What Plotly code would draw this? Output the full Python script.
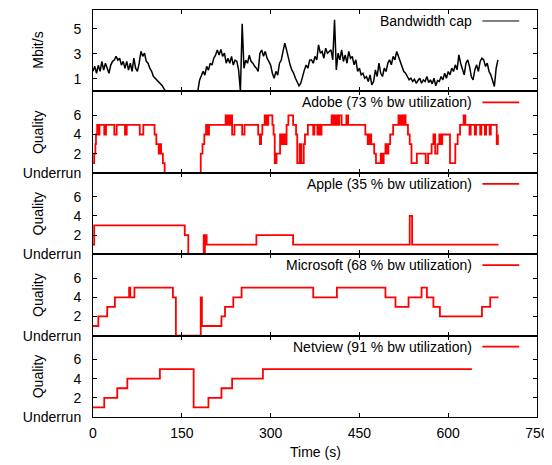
import plotly.graph_objects as go
from plotly.subplots import make_subplots

# ---------------- data ----------------
bw_time = list(range(0, 685, 3))
bw_cap = [
    1.6, 2.0, 1.45, 2.1, 1.6, 2.4, 1.7, 2.25, 1.85, 1.45,
    2.1, 2.4, 2.5, 2.8, 2.5, 2.65, 2.1, 2.4, 1.85, 2.4,
    1.7, 2.25, 1.6, 2.65, 1.85, 1.6, 2.25, 3.2, 2.8, 3.05,
    2.4, 2.25, 1.85, 1.6, 1.2, 1.05, 0.87, 0.8, 0.6, 0.45,
    0.2,
    0, 0, 0, 0, 0, 0, 0, 0, 0, 0, 0, 0, 0, 0, 0, 0, 0, 0, 0,
    0.9, 1.3, 1.6, 1.3, 2.0, 1.7, 2.25, 2.1, 2.65, 2.9,
    3.3, 2.9, 3.35, 2.8, 3.05, 2.25, 2.65, 2.25, 2.8, 2.1,
    2.5, 2.4, 1.7, 0.0, 5.4, 1.85, 2.5, 2.25, 2.9, 2.4,
    2.25, 2.0, 1.85, 1.6, 3.05, 3.3, 2.8, 3.2, 2.65, 2.4,
    2.1, 1.45, 1.05, 1.6, 1.3, 2.25, 2.5, 3.2, 3.85, 3.3,
    2.65, 2.1, 1.7, 1.45, 1.05, 0.8, 0.45, 0.65, 1.3, 1.7,
    2.1, 1.85, 2.5,
    2.52, 2.25, 2.79, 2.52, 3.72, 3.05, 3.19, 2.65, 3.45, 3.05,
    3.19, 3.32, 2.52, 5.72, 1.72, 3.05, 2.52, 3.32, 2.39, 2.92,
    2.25, 3.19, 2.65, 2.79, 2.12, 2.52, 1.59, 1.85, 1.32, 1.45,
    1.05, 1.19, 0.79, 1.32, 0.52, 0.79, 1.72, 1.19, 2.25, 1.45,
    1.19, 1.85, 1.59, 2.25, 2.52, 2.12, 2.79, 2.52, 3.19, 2.79,
    2.39, 1.85, 1.59, 1.45, 1.19, 0.92, 1.05, 0.79, 0.97, 0.65,
    0.87, 1.05, 0.65, 0.92, 0.79, 1.19, 0.71, 0.92, 0.60, 1.05,
    0.44, 0.87, 0.79, 1.19, 0.92, 1.45, 1.05, 1.59, 1.32, 1.85,
    1.59, 2.12, 1.72, 2.92, 2.25, 1.85, 1.32, 2.25, 2.52, 1.99,
    1.19, 0.92, 1.72, 2.12, 1.59, 2.39, 2.65, 2.52, 1.99, 2.25,
    1.59, 1.32, 0.79, 0.39, 1.85, 2.52,
]
n = min(len(bw_time), len(bw_cap))
bw_time, bw_cap = bw_time[:n], bw_cap[:n]

adobe_t = [0, 2, 4, 5, 7, 9, 11, 19, 22, 36, 40, 54, 57, 79, 85,
           104, 107, 111, 113, 115, 118, 121, 182, 185, 188, 191, 193, 196,
           224, 227, 229, 231, 233, 235, 239, 252, 256, 279, 282, 284, 286,
           290, 293, 296, 303, 305, 307, 310, 316, 319, 322, 324, 327, 330,
           338, 343, 345, 349, 352, 356, 358, 363, 372, 374, 379, 381, 384,
           386, 403, 405, 407, 409, 411, 414, 416, 420, 428, 431, 460, 464,
           467, 470, 475, 478, 486, 489, 491, 494, 496, 499, 502, 507, 516,
           518, 520, 523, 525, 528, 532, 535, 538, 547, 562, 566, 572, 575,
           578, 582, 585, 588, 590, 603, 612, 616, 620, 626, 629, 636, 638,
           645, 647, 654, 656, 662, 664, 670, 672, 682, 684]
adobe_q = [1, 2, 3, 4, 5, 4, 5, 4, 5, 4, 5, 4, 5, 4, 5,
           4, 3, 2, 3, 2, 1, 0, 2, 3, 4, 5, 4, 5,
           6, 5, 6, 5, 6, 4, 5, 4, 5, 4, 3, 4, 5,
           6, 5, 6, 5, 4, 1, 2, 4, 3, 4, 3, 5, 6,
           5, 4, 1, 3, 1, 3, 4, 5, 4, 5, 4, 5, 4,
           5, 6, 5, 6, 5, 6, 5, 6, 5, 6, 5, 4, 3,
           4, 3, 2, 1, 2, 1, 2, 3, 2, 3, 4, 5, 6,
           5, 6, 5, 6, 5, 4, 3, 1, 2, 1, 2, 3, 4,
           2, 3, 4, 3, 4, 1, 3, 4, 5, 6, 5, 4, 5,
           4, 5, 4, 5, 4, 5, 4, 5, 3, 4]

apple_t = [0, 2, 155, 161, 187, 188, 189, 192, 276, 338, 535, 539, 685]
apple_q = [1, 3, 2, 0, 2, 0, 2, 1, 2, 1, 4, 1, 1]

microsoft_t = [0, 9, 24, 37, 61, 63, 70, 135, 140, 182, 184, 217, 223,
               237, 251, 372, 412, 494, 511, 533, 555, 564, 575, 586, 657,
               671, 685]
microsoft_q = [1, 2, 3, 4, 5, 4, 5, 4, 0, 4, 1, 2, 3,
               4, 5, 4, 5, 4, 3, 4, 5, 4, 3, 2, 3,
               4, 4]

netview_t = [0, 19, 41, 58, 113, 170, 195, 217, 235, 287, 640]
netview_q = [1, 2, 3, 4, 5, 1, 2, 3, 4, 5, 5]

labels = ["Bandwidth cap",
          "Adobe (73 % bw utilization)",
          "Apple (35 % bw utilization)",
          "Microsoft (68 % bw utilization)",
          "Netview (91 % bw utilization)"]
x_ticks = [0, 150, 300, 450, 600, 750]
q_tickvals = [0, 2, 4, 6]
q_ticktext = ["Underrun", "2", "4", "6"]
bw_tickvals = [1, 3, 5]

# ---------------- figure ----------------
FONT = "Liberation Sans, Arial, Helvetica, sans-serif"
fig = make_subplots(rows=5, cols=1, shared_xaxes=True, vertical_spacing=0)

fig.add_trace(go.Scatter(x=bw_time, y=bw_cap, mode="lines",
                         line=dict(color="black", width=1.5)), row=1, col=1)
series = [(adobe_t, adobe_q), (apple_t, apple_q),
          (microsoft_t, microsoft_q), (netview_t, netview_q)]
for i, (t, q) in enumerate(series):
    fig.add_trace(go.Scatter(x=t, y=q, mode="lines", line_shape="hv",
                             line=dict(color="#ff0000", width=1.8)),
                  row=i + 2, col=1)

axis_common = dict(showline=True, linecolor="black", linewidth=1,
                   mirror="ticks", ticks="inside", ticklen=4,
                   tickcolor="black", showgrid=False, zeroline=False,
                   tickfont=dict(family=FONT, size=14, color="black"))

for r in range(1, 6):
    fig.update_xaxes(range=[0, 750], tickvals=x_ticks,
                     showticklabels=(r == 5), ticklabelstandoff=3,
                     **axis_common, row=r, col=1)
    if r == 1:
        fig.update_yaxes(range=[0, 6.5], tickvals=bw_tickvals,
                         ticklabelstandoff=8, **axis_common, row=r, col=1)
    else:
        fig.update_yaxes(range=[0, 8.5], tickvals=q_tickvals,
                         ticktext=q_ticktext, ticklabelstandoff=8,
                         **axis_common, row=r, col=1)

annotations = []
shapes = []
for r in range(1, 6):
    xr = "x domain" if r == 1 else f"x{r} domain"
    yr = "y domain" if r == 1 else f"y{r} domain"
    annotations.append(dict(text=labels[r - 1], xref=xr, yref=yr,
                            x=0.858, y=0.865, xanchor="right",
                            yanchor="middle", showarrow=False,
                            font=dict(family=FONT, size=14, color="black")))
    shapes.append(dict(type="line", xref=xr, yref=yr, x0=0.877, x1=0.960,
                       y0=0.865, y1=0.865,
                       line=dict(color="black" if r == 1 else "#ff0000",
                                 width=1 if r == 1 else 1.8)))
    annotations.append(dict(text="Mbit/s" if r == 1 else "Quality",
                            xref="paper", yref=yr, x=0, y=0.5,
                            xshift=-55, xanchor="center", yanchor="middle",
                            textangle=-90, showarrow=False,
                            font=dict(family=FONT, size=14, color="black")))

annotations.append(dict(text="Time (s)", xref="paper", yref="paper",
                        x=0.5, y=0, yshift=-35, xanchor="center",
                        yanchor="middle", showarrow=False,
                        font=dict(family=FONT, size=14, color="black")))

# page body has an 8px margin, so the figure is sized/offset to compensate
fig.update_layout(width=544, height=457,
                  margin=dict(l=85, r=15, t=2, b=48),
                  paper_bgcolor="white", plot_bgcolor="white",
                  showlegend=False, annotations=annotations, shapes=shapes,
                  font=dict(family=FONT, size=14, color="black"))

fig.write_html("out.html")
